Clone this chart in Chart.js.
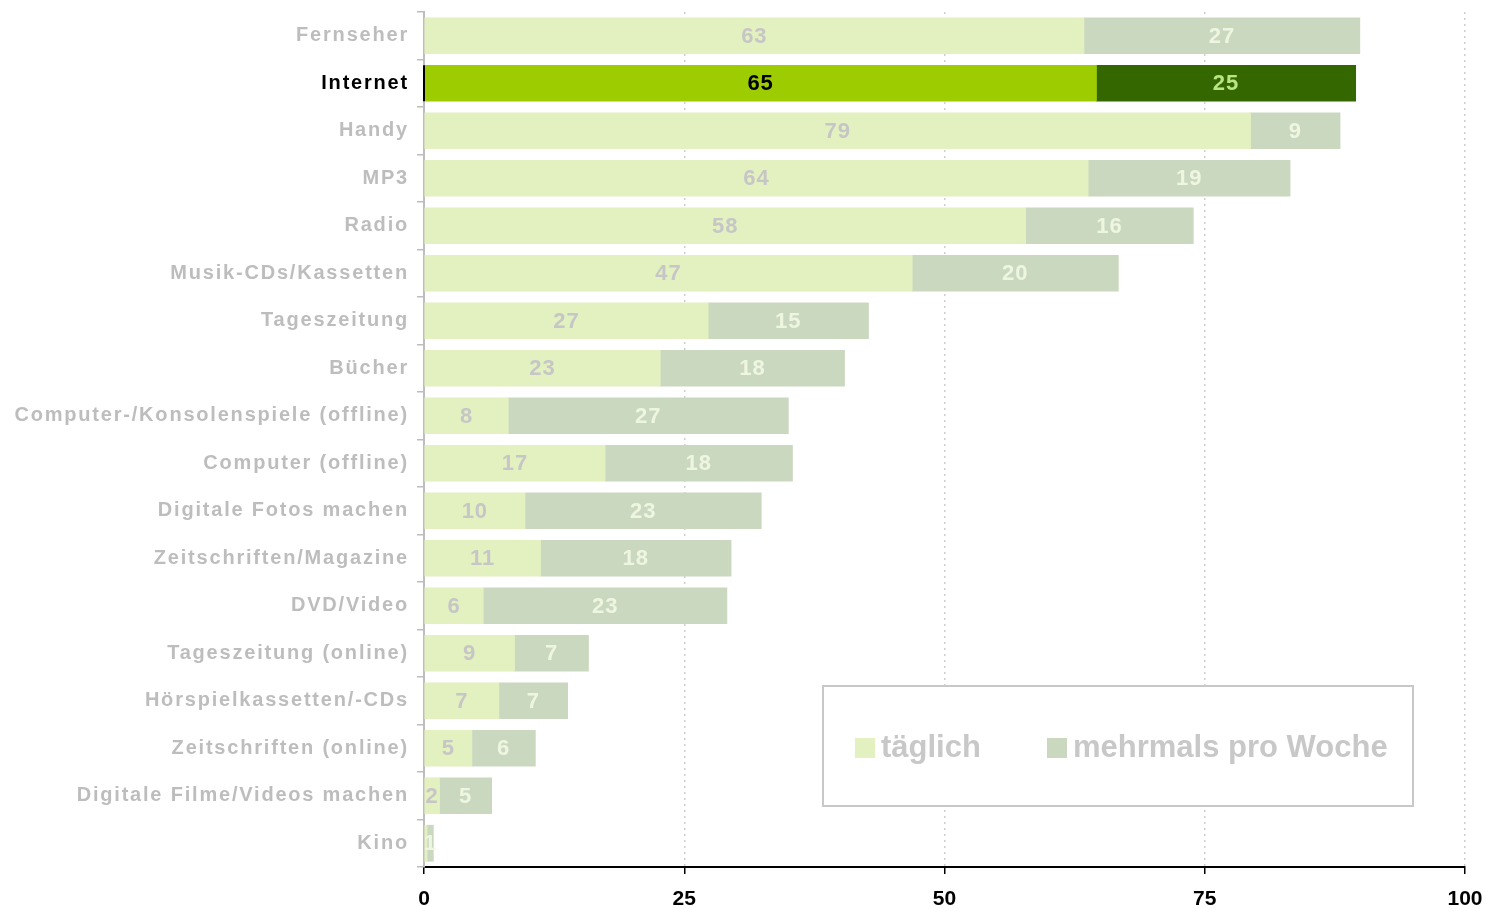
<!DOCTYPE html>
<html>
<head>
<meta charset="utf-8">
<script src="https://cdn.jsdelivr.net/npm/chart.js@4/dist/chart.umd.min.js"></script>
<style>
  html, body { margin: 0; padding: 0; background: #fff; }
  #wrap { width: 1486px; height: 909px; }
</style>
</head>
<body>
<div id="wrap"><canvas id="chart"></canvas></div>
<script>
// --- DATEN ---
const categories = [
  'Fernseher', 'Internet', 'Handy', 'MP3', 'Radio', 'Musik-CDs/Kassetten',
  'Tageszeitung', 'Bücher', 'Computer-/Konsolenspiele (offline)', 'Computer (offline)',
  'Digitale Fotos machen', 'Zeitschriften/Magazine', 'DVD/Video', 'Tageszeitung (online)',
  'Hörspielkassetten/-CDs', 'Zeitschriften (online)', 'Digitale Filme/Videos machen', 'Kino'
];
const dailyValues  = [63.4, 64.6, 79.4, 63.8, 57.8, 46.9, 27.3, 22.7, 8.1, 17.4, 9.7, 11.2, 5.7, 8.7, 7.2, 4.6, 1.5, 0.3];
const weeklyValues = [26.5, 24.9, 8.6, 19.4, 16.1, 19.8, 15.4, 17.7, 26.9, 18.0, 22.7, 18.3, 23.4, 7.1, 6.6, 6.1, 5.0, 0.6];
const seriesNames = ['täglich', 'mehrmals pro Woche'];
const xTicks = [0, 25, 50, 75, 100];

const highlight = 'Internet';
const FONT = '"Liberation Sans", Arial, sans-serif';

const dailyColor = '#e3f0c0', weeklyColor = '#cbd8c0';
const dailyHi = '#9dcd00', weeklyHi = '#346700';

function colorsFor(base, hi) {
  return categories.map(c => c === highlight ? hi : base);
}

// Buchstabenabstand nur für die Kategorien (y-Achse)
const spacingPlugin = {
  id: 'spacing',
  beforeDraw(chart) {
    const s = chart.scales.y;
    if (s._spaced) return;
    const orig = s.drawLabels;
    s.drawLabels = function (area) {
      this.ctx.save();
      this.ctx.letterSpacing = '1.8px';
      orig.call(this, area);
      this.ctx.restore();
    };
    s._spaced = true;
  }
};

// Werte in die Balken schreiben + Legende
const labelPlugin = {
  id: 'barLabels',
  afterDatasetsDraw(chart) {
    const ctx = chart.ctx;
    ctx.save();
    ctx.letterSpacing = '1px';
    ctx.font = 'bold 22px ' + FONT;
    ctx.textAlign = 'center';
    ctx.textBaseline = 'middle';
    chart.data.datasets.forEach((ds, di) => {
      chart.getDatasetMeta(di).data.forEach((bar, i) => {
        const v = Math.round(ds.data[i]);
        if (v === 0) return;
        const hi = categories[i] === highlight;
        if (di === 0) ctx.fillStyle = hi ? '#000' : '#c6c6c6';
        else ctx.fillStyle = hi ? '#b9e585' : '#eef6e2';
        ctx.fillText(String(v), (bar.base + bar.x) / 2, bar.y + 1);
      });
    });

    // schwarzes Stück der y-Achse beim Internet-Balken
    const hiBar = chart.getDatasetMeta(0).data[categories.indexOf(highlight)];
    ctx.strokeStyle = '#000';
    ctx.lineWidth = 2;
    ctx.beginPath();
    ctx.moveTo(chart.chartArea.left, hiBar.y - 18);
    ctx.lineTo(chart.chartArea.left, hiBar.y + 18);
    ctx.stroke();

    // Legende im Kasten
    ctx.letterSpacing = '0px';
    const box = { x: 823, y: 686, w: 590, h: 120 };
    ctx.fillStyle = '#fff';
    ctx.fillRect(box.x, box.y, box.w, box.h);
    ctx.strokeStyle = '#c8c8c8';
    ctx.lineWidth = 2;
    ctx.strokeRect(box.x, box.y, box.w, box.h);
    ctx.font = 'bold 31px ' + FONT;
    ctx.textAlign = 'left';
    ctx.textBaseline = 'middle';
    const items = [
      { x: 855, color: dailyColor },
      { x: 1047, color: weeklyColor }
    ];
    items.forEach((it, k) => {
      ctx.fillStyle = it.color;
      ctx.fillRect(it.x, 738, 20, 20);
      ctx.fillStyle = '#c8c8c8';
      ctx.fillText(seriesNames[k], it.x + 26, 748);
    });
    ctx.restore();
  }
};

new Chart(document.getElementById('chart'), {
  type: 'bar',
  data: {
    labels: categories,
    datasets: [
      { label: seriesNames[0], data: dailyValues, backgroundColor: colorsFor(dailyColor, dailyHi), barThickness: 36 },
      { label: seriesNames[1], data: weeklyValues, backgroundColor: colorsFor(weeklyColor, weeklyHi), barThickness: 36 }
    ]
  },
  options: {
    indexAxis: 'y',
    responsive: true,
    maintainAspectRatio: false,
    animation: false,
    layout: { padding: { top: 12, right: 21, left: 0, bottom: 0 } },
    plugins: { legend: { display: false }, tooltip: { enabled: false } },
    scales: {
      x: {
        stacked: true,
        min: 0,
        max: 100,
        afterBuildTicks(scale) { scale.ticks = xTicks.map(v => ({ value: v })); },
        afterFit(scale) { scale.height = 42; scale.paddingLeft = 0; scale.paddingRight = 0; },
        border: { color: '#000', width: 2, dash: [2, 4] },
        grid: {
          color: c => c.tick && c.tick.value === 0 ? 'rgba(0,0,0,0)' : '#cfcfcf',
          tickColor: '#000',
          tickBorderDash: [],
          tickLength: 7,
          lineWidth: 1.5
        },
        ticks: {
          color: '#000',
          padding: 13,
          font: { family: FONT, size: 21, weight: 'bold' }
        }
      },
      y: {
        stacked: true,
        afterFit(scale) { scale.width = 424; scale.paddingTop = 0; scale.paddingBottom = 0; },
        border: { color: '#bdbdbd', width: 2 },
        grid: {
          offset: true,
          drawOnChartArea: false,
          tickLength: 7,
          tickColor: '#bdbdbd',
          lineWidth: 1.5
        },
        ticks: {
          padding: 8,
          color: c => categories[c.index] === highlight ? '#000' : '#bdbdbd',
          font: { family: FONT, size: 20, weight: 'bold' }
        }
      }
    }
  },
  plugins: [spacingPlugin, labelPlugin]
});
</script>
</body>
</html>
